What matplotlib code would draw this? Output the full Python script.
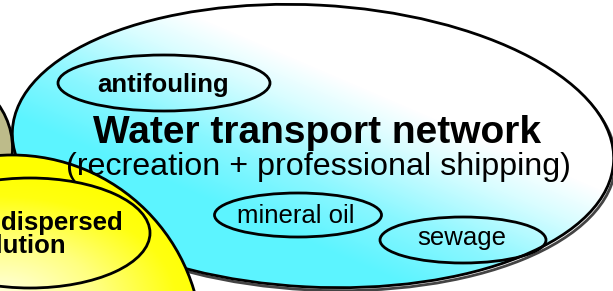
import numpy as np
import matplotlib
matplotlib.use("Agg")
import matplotlib.pyplot as plt
from matplotlib.patches import Ellipse
from matplotlib.colors import LinearSegmentedColormap

plt.rcParams['font.family'] = ['Liberation Sans', 'DejaVu Sans']

# Diagram content
title = "Water transport network"
subtitle = "(recreation + professional shipping)"
sub_labels = ["antifouling", "mineral oil", "sewage"]
sub_bold = [True, False, False]
left_labels = ["dispersed", "pollution"]

W, H = 613, 291
fig = plt.figure(figsize=(W / 100, H / 100), dpi=100)
ax = fig.add_axes([0, 0, 1, 1])
ax.set_xlim(0, W)
ax.set_ylim(H, 0)
ax.axis('off')

# olive ellipse on far left
olive = Ellipse((-75, 148), 175, 160, facecolor='#BDBB8A', edgecolor='black', lw=2, zorder=1)
ax.add_patch(olive)

# big water transport ellipse with gradient
big = Ellipse((313, 146), 602, 282, angle=3, facecolor='none', edgecolor='black', lw=2, zorder=3)
shadow = Ellipse((315, 149), 602, 282, angle=3, facecolor='none', edgecolor='#444444', lw=2, zorder=1.5)
ax.add_patch(shadow)
ax.add_patch(big)
yy, xx = np.mgrid[0:H, 0:W]
t = 1 + 0.0024 * (xx - 300) - 0.0056 * (yy - 60)
t = np.clip(t, 0, 1)
cmap_c = LinearSegmentedColormap.from_list(
    'c', [(0, '#5CF4FF'), (0.35, '#8AF7FF'), (0.75, '#D8FDFF'), (1, '#FFFFFF')], N=256)
im = ax.imshow(t, cmap=cmap_c, vmin=0, vmax=1, extent=(0, W, H, 0), origin='upper',
               zorder=2, interpolation='bilinear')
im.set_clip_path(Ellipse((313, 146), 602, 282, angle=3, transform=ax.transData))

# yellow circle with gradient
yc = Ellipse((12, 345), 380, 380, facecolor='none', edgecolor='black', lw=2, zorder=6)
ax.add_patch(yc)
ty = np.sqrt(((xx - 0) / 220.0) ** 2 + ((yy - 300) / 130.0) ** 2)
ty = np.clip(ty, 0, 1)
cmap_y = LinearSegmentedColormap.from_list(
    'y', [(0, '#FFFFE8'), (0.45, '#FFFF80'), (0.8, '#FFFF10'), (1, '#FFFF00')], N=256)
im2 = ax.imshow(ty, cmap=cmap_y, vmin=0, vmax=1, extent=(0, W, H, 0), origin='upper',
                zorder=5, interpolation='bilinear')
im2.set_clip_path(Ellipse((12, 345), 380, 380, transform=ax.transData))

inner_y = Ellipse((30, 233), 240, 110, facecolor='none', edgecolor='black', lw=2, zorder=7)
ax.add_patch(inner_y)

# small ellipses
centers = [(164, 83), (298, 215), (463, 240)]
sizes = [(212, 56), (167, 44), (166, 46)]
text_pos = [(163, 92), (296, 223), (462, 245)]
for (cx, cy), (w, h), (tx, ty_), lab, b in zip(centers, sizes, text_pos, sub_labels, sub_bold):
    ax.add_patch(Ellipse((cx, cy), w, h, facecolor='none', edgecolor='black', lw=2, zorder=4))
    ax.text(tx, ty_, lab, ha='center', va='baseline', fontsize=18.5,
            fontweight='bold' if b else 'normal', zorder=8)

ax.text(317, 143, title, ha='center', va='baseline', fontsize=28, fontweight='bold', zorder=8)
ax.text(318.5, 175, subtitle, ha='center', va='baseline', fontsize=23.2, zorder=8)

ax.text(123, 230, left_labels[0], ha='right', va='baseline', fontsize=18.5, fontweight='bold', zorder=8)
ax.text(66, 253, left_labels[1], ha='right', va='baseline', fontsize=18.5, fontweight='bold', zorder=8)

fig.savefig("out.png", dpi=100)
